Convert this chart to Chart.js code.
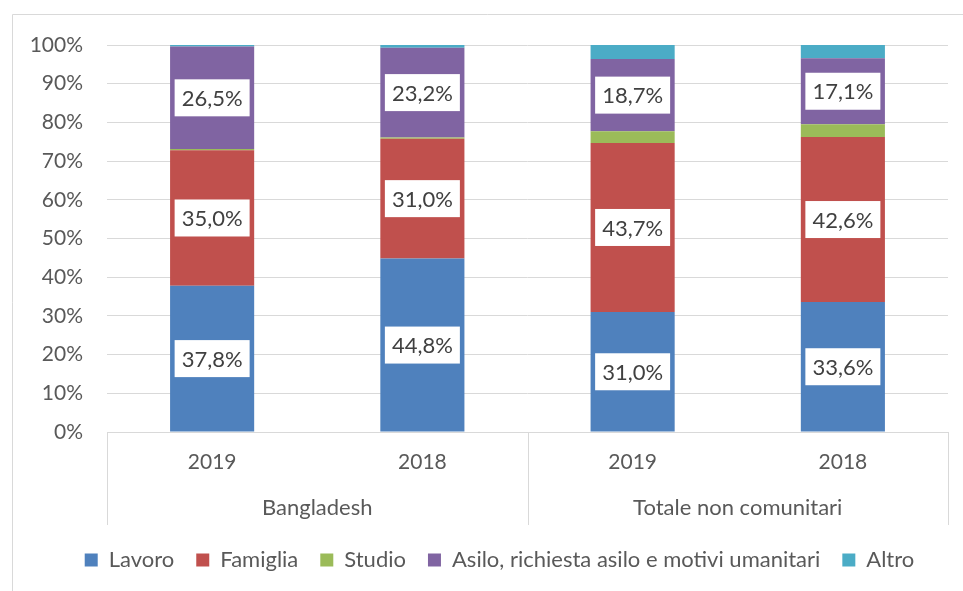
<!DOCTYPE html>
<html>
<head>
<meta charset="utf-8">
<script src="https://cdn.jsdelivr.net/npm/chart.js@4/dist/chart.umd.min.js"></script>
<style>
  html, body { margin: 0; padding: 0; background: #fff; }
  #wrap { position: relative; width: 963px; height: 591px; }
</style>
</head>
<body>
<div id="wrap"><canvas id="chart" width="963" height="591"></canvas></div>
<script>
// data (percent)
const years = ['2019', '2018', '2019', '2018'];
const groups = ['Bangladesh', 'Totale non comunitari'];
const lavoro = [37.8, 44.8, 31.0, 33.6];
const famiglia = [35.0, 31.0, 43.7, 42.6];
const studio = [0.3, 0.3, 3.0, 3.3];
const asilo = [26.5, 23.2, 18.7, 17.1];
const altro = [0.4, 0.7, 3.6, 3.4];
const yTicks = [0, 10, 20, 30, 40, 50, 60, 70, 80, 90, 100];

const FONT = 'Lato';
const gridColor = '#d9d9d9';

// boxes with values, like excel data labels
const labelPlugin = {
    id: 'valueBoxes',
    afterDatasetsDraw(chart) {
        const ctx = chart.ctx;
        ctx.save();
        ctx.font = '22px ' + FONT;
        ctx.textAlign = 'center';
        ctx.textBaseline = 'middle';
        chart.data.datasets.forEach((ds, di) => {
            if (!ds.showLabel) return;
            chart.getDatasetMeta(di).data.forEach((bar, i) => {
                const txt = ds.data[i].toFixed(1).replace('.', ',') + '%';
                const cy = (bar.y + bar.base) / 2;
                const w = 75, h = 37;
                ctx.fillStyle = '#ffffff';
                ctx.fillRect(bar.x - w / 2, cy - h / 2, w, h);
                ctx.fillStyle = '#404040';
                ctx.fillText(txt, bar.x, cy + 1);
            });
        });
        ctx.restore();
    }
};

// second level of the category axis and the outer frame
const groupPlugin = {
    id: 'groupAxis',
    afterLayout(chart) {
        // legend sits a bit right of the canvas centre in the original
        chart.legend.left = 51;
    },
    afterDraw(chart) {
        const ctx = chart.ctx;
        const area = chart.chartArea;
        const xs = chart.scales.x;
        const bottom = area.bottom + 93;
        const mid = (xs.getPixelForValue(1) + xs.getPixelForValue(2)) / 2;
        ctx.save();
        ctx.strokeStyle = gridColor;
        ctx.lineWidth = 1;
        [area.left, mid, area.right].forEach(x => {
            const px = Math.round(x) + 0.5;
            ctx.beginPath();
            ctx.moveTo(px, area.bottom);
            ctx.lineTo(px, bottom);
            ctx.stroke();
        });
        // frame
        ctx.beginPath();
        ctx.moveTo(12.5, 591);
        ctx.lineTo(12.5, 14.5);
        ctx.lineTo(963, 14.5);
        ctx.stroke();

        ctx.font = '22px ' + FONT;
        ctx.fillStyle = '#595959';
        ctx.textAlign = 'center';
        ctx.textBaseline = 'middle';
        const c1 = (xs.getPixelForValue(0) + xs.getPixelForValue(1)) / 2;
        const c2 = (xs.getPixelForValue(2) + xs.getPixelForValue(3)) / 2;
        ctx.fillText(groups[0], c1, area.bottom + 76);
        ctx.fillText(groups[1], c2, area.bottom + 76);
        ctx.restore();
    }
};

new Chart(document.getElementById('chart'), {
    type: 'bar',
    data: {
        labels: years,
        datasets: [
            { label: 'Lavoro', data: lavoro, backgroundColor: '#4f81bd', showLabel: true },
            { label: 'Famiglia', data: famiglia, backgroundColor: '#c0504d', showLabel: true },
            { label: 'Studio', data: studio, backgroundColor: '#9bbb59' },
            { label: 'Asilo, richiesta asilo e motivi umanitari', data: asilo, backgroundColor: '#8064a2', showLabel: true },
            { label: 'Altro', data: altro, backgroundColor: '#4bacc6' }
        ]
    },
    options: {
        responsive: false,
        animation: false,
        layout: { padding: { top: 45, right: 15, bottom: 10, left: 0 } },
        datasets: { bar: { categoryPercentage: 1, barPercentage: 0.4 } },
        scales: {
            x: {
                stacked: true,
                grid: { display: false, drawTicks: false },
                border: { display: true, color: gridColor },
                ticks: { color: '#595959', font: { family: FONT, size: 21 }, padding: 18 },
                afterFit(scale) { scale.height = 95; }
            },
            y: {
                stacked: true,
                min: 0,
                max: 100,
                afterBuildTicks(scale) { scale.ticks = yTicks.map(v => ({ value: v })); },
                grid: { color: gridColor, drawTicks: false },
                border: { display: false },
                ticks: {
                    color: '#595959',
                    font: { family: FONT, size: 21 },
                    padding: 24,
                    callback: v => v + '%'
                },
                afterFit(scale) { scale.width = 107; }
            }
        },
        plugins: {
            legend: {
                position: 'bottom',
                labels: {
                    boxWidth: 13,
                    boxHeight: 13,
                    padding: 22,
                    color: '#595959',
                    font: { family: FONT, size: 22 }
                }
            },
            tooltip: { enabled: false }
        }
    },
    plugins: [labelPlugin, groupPlugin]
});
</script>
</body>
</html>
